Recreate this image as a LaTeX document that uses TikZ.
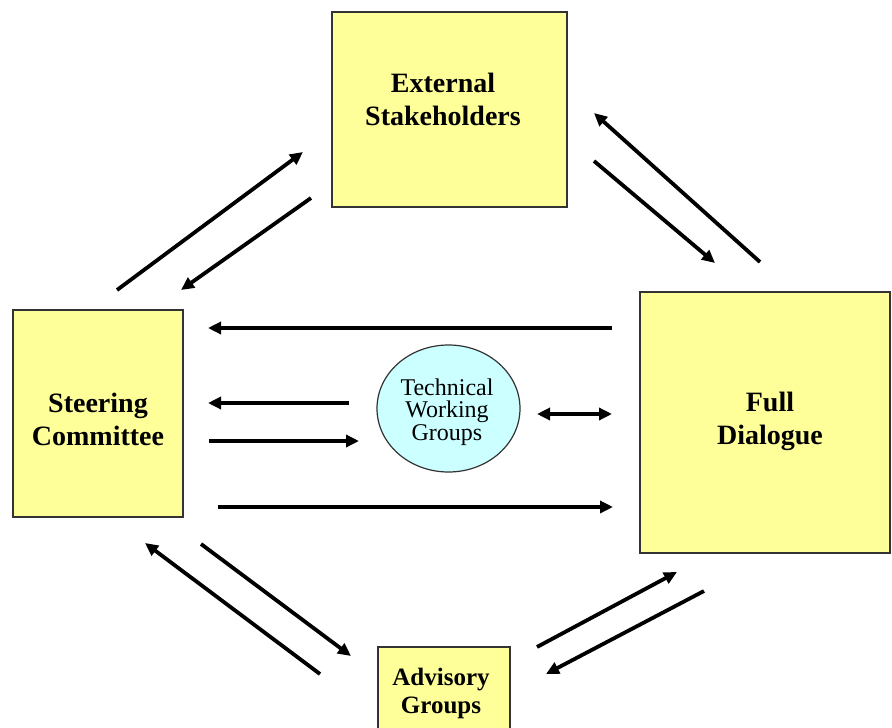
\documentclass[tikz,border=0pt]{standalone}
\usepackage{fontspec}
\setmainfont{Liberation Serif}
\usetikzlibrary{arrows.meta,shapes.geometric}
\definecolor{boxfill}{HTML}{FFFF99}
\definecolor{circfill}{HTML}{CCFFFF}
\definecolor{edgecol}{HTML}{333333}
\begin{document}
\begin{tikzpicture}[x=1pt,y=-1pt,
  box/.style={draw=edgecol, line width=1.5pt, fill=boxfill, rectangle, inner sep=0pt},
  boxtext/.style={align=center, inner sep=0pt, font=\fontsize{28}{33}\selectfont\bfseries},
  smalltext/.style={align=center, inner sep=0pt, font=\fontsize{25}{28}\selectfont\bfseries},
  circtext/.style={align=center, inner sep=0pt, font=\fontsize{24}{22.5}\selectfont},
  circ/.style={draw=edgecol, line width=1.2pt, fill=circfill, ellipse, inner sep=0pt},
  flow/.style={line width=3.8pt, -{Triangle[length=13pt,width=12pt]}},
  flowboth/.style={line width=3.8pt, {Triangle[length=13pt,width=12pt]}-{Triangle[length=13pt,width=12pt]}}
]
\useasboundingbox (0,0) rectangle (892,728);
\clip (0,0) rectangle (892,728);
\fill[white] (0,0) rectangle (892,728);

% boxes
\node[box, minimum width=235pt, minimum height=195pt] (ext) at (449.5,109.5) {};
\node[boxtext] (exttxt) at (443,99) {External\\Stakeholders};

\node[box, minimum width=170pt, minimum height=207pt] (steer) at (98,413.5) {};
\node[boxtext] (steertxt) at (98,419) {Steering\\Committee};

\node[box, minimum width=250pt, minimum height=261pt] (full) at (765,422.5) {};
\node[boxtext] (fulltxt) at (770,421) {Full\\Dialogue};

\node[box, minimum width=132pt, minimum height=110pt] (adv) at (444,702) {};
\node[smalltext] (advtxt) at (441,693) {Advisory\\Groups};

\node[circ, minimum width=143pt, minimum height=127pt] (twg) at (448.5,408.5) {};
\node[circtext] (twgtxt) at (447,412) {Technical\\Working\\Groups};

% arrow end points
\coordinate (a1s) at (117,290);  \coordinate (a1e) at (303,152);
\coordinate (a2s) at (311,198);  \coordinate (a2e) at (181,290);
\coordinate (a3s) at (760,262);  \coordinate (a3e) at (594,113);
\coordinate (a4s) at (594,161);  \coordinate (a4e) at (715,263);
\coordinate (a5s) at (320,674);  \coordinate (a5e) at (145,543);
\coordinate (a6s) at (201,544);  \coordinate (a6e) at (351,656);
\coordinate (a7s) at (537,647);  \coordinate (a7e) at (677,572);
\coordinate (a8s) at (704,591);  \coordinate (a8e) at (546,674);
\coordinate (h1s) at (612,328);  \coordinate (h1e) at (208,328);
\coordinate (h2s) at (349,403);  \coordinate (h2e) at (208,403);
\coordinate (h3s) at (209,441);  \coordinate (h3e) at (359,441);
\coordinate (h4s) at (218,507);  \coordinate (h4e) at (613,507);
\coordinate (d1s) at (537,414);  \coordinate (d1e) at (612,414);

\draw[flow] (a1s) -- (a1e);
\draw[flow] (a2s) -- (a2e);
\draw[flow] (a3s) -- (a3e);
\draw[flow] (a4s) -- (a4e);
\draw[flow] (a5s) -- (a5e);
\draw[flow] (a6s) -- (a6e);
\draw[flow] (a7s) -- (a7e);
\draw[flow] (a8s) -- (a8e);
\draw[flow] (h1s) -- (h1e);
\draw[flow] (h2s) -- (h2e);
\draw[flow] (h3s) -- (h3e);
\draw[flow] (h4s) -- (h4e);
\draw[flowboth] (d1s) -- (d1e);
\end{tikzpicture}
\end{document}
